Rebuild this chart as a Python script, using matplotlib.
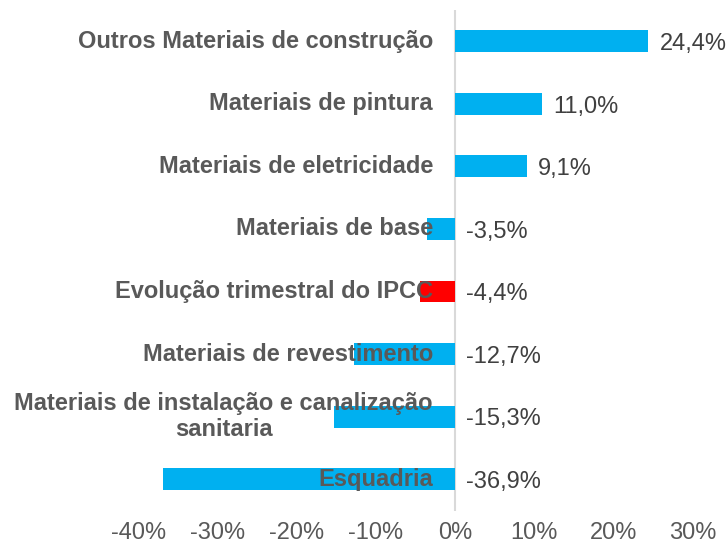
import numpy as np
import matplotlib.pyplot as plt

categorias = ['Outros Materiais de construção', 'Materiais de pintura',
              'Materiais de eletricidade', 'Materiais de base',
              'Evolução trimestral do IPCC', 'Materiais de revestimento',
              'Materiais de instalação e canalização\nsanitaria', 'Esquadria']
valores = [24.4, 11.0, 9.1, -3.5, -4.4, -12.7, -15.3, -36.9]
cores = ['#00B0F0', '#00B0F0', '#00B0F0', '#00B0F0', '#FF0000',
         '#00B0F0', '#00B0F0', '#00B0F0']
ticks = [-40, -30, -20, -10, 0, 10, 20, 30]

plt.rcParams['font.family'] = ['Liberation Sans', 'DejaVu Sans']

fig = plt.figure(figsize=(7.27, 5.49), dpi=100)
ax = fig.add_axes([0.190, 0.070, 0.763, 0.912])

y = np.arange(len(categorias))[::-1]
ax.barh(y, valores, height=0.35, color=cores, zorder=2)
ax.axvline(0, color='#D9D9D9', linewidth=1.5, zorder=1)

for yi, v, c in zip(y, valores, categorias):
    ax.annotate(c, (0, yi), xytext=(-16, 0), textcoords='offset points',
                ha='right', va='center', multialignment='center',
                fontsize=17, fontweight='bold', color='#595959', zorder=3)
    xv = v if v > 0 else 0
    ax.annotate(f'{v:.1f}%'.replace('.', ','), (xv, yi), xytext=(8, -2),
                textcoords='offset points', ha='left', va='center',
                fontsize=17, color='#404040', zorder=3)

ax.set_xlim(-40, 30)
ax.set_ylim(-0.5, 7.5)
ax.set_xticks(ticks)
ax.set_xticklabels([f'{t}%' for t in ticks], fontsize=17, color='#595959')
ax.tick_params(axis='x', length=0, pad=8)
ax.set_yticks([])
for s in ax.spines.values():
    s.set_visible(False)

fig.savefig('out.png', dpi=100)
